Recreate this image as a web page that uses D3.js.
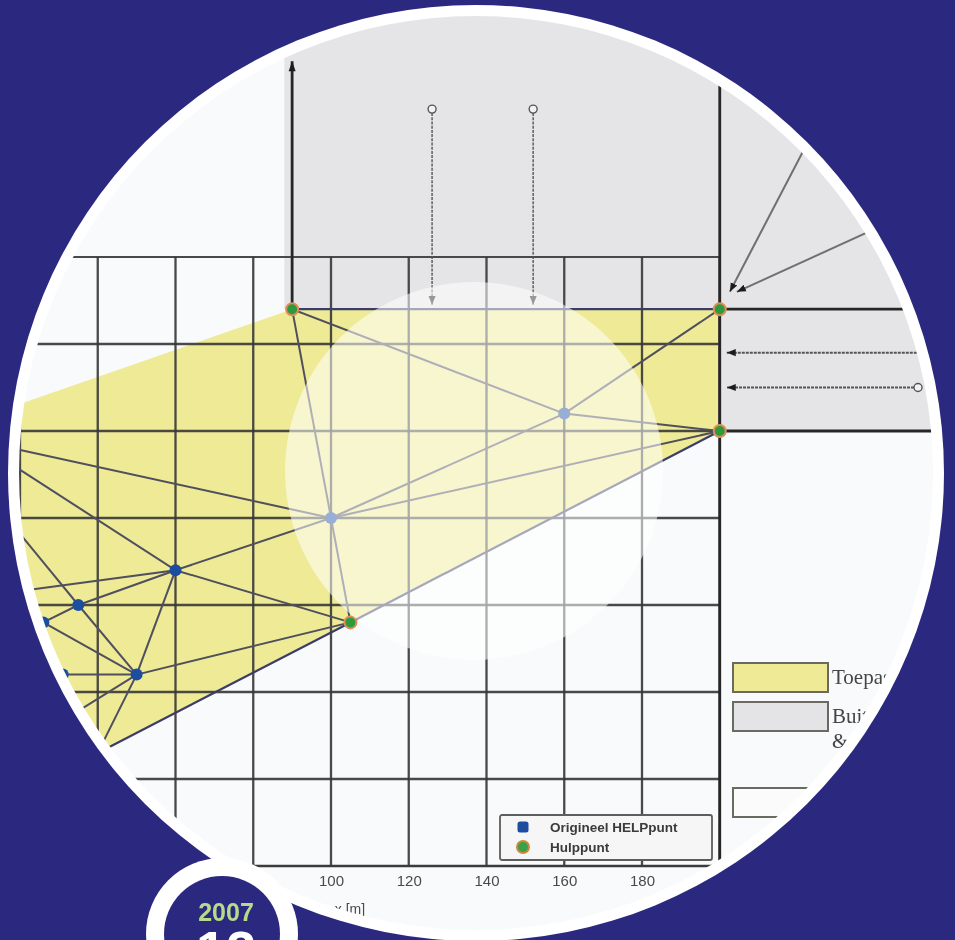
<!DOCTYPE html>
<html>
<head>
<meta charset="utf-8">
<script src="https://cdn.jsdelivr.net/npm/d3@7"></script>
<style>
  html, body { margin: 0; padding: 0; background: #2b2880; }
  svg { display: block; }
</style>
</head>
<body>
<svg id="chart" width="955" height="940"></svg>
<script>
// ---- data -------------------------------------------------------------
// x axis tick labels and grid positions (metres)
const xTickLabels = [100, 120, 140, 160, 180];
const xGrid = [0, 20, 40, 60, 80, 100, 120, 140, 160, 180, 200];
const yGrid = [0, 20, 40, 60, 80, 100, 120, 140];

// mesh nodes
const nodeIds  = ["A", "B", "C", "D", "E", "F", "G", "H", "I", "J", "K", "L", "N", "O", "P", "Q", "R", "S"];
const nodeX    = [ 90, 200, 200, 105, 160, 100,  60,  35,  50,  26,  31,   8,  13,  10,  40,  23,   0,   0];
const nodeY    = [128, 128, 100,  56, 104,  80,  68,  60,  44,  56,  44,  98,  84,  62,  26,  29,   7, 100];
const nodeKind = ["hulp", "hulp", "hulp", "hulp", "orig", "orig", "orig", "orig", "orig", "orig", "orig",
                  "orig", "orig", "orig", "rand", "orig", "rand", "rand"];

// outline of the application area and the triangulation inside it
const outline = ["A", "B", "C", "D", "P", "R", "S"];
const meshEdges = [
  ["A", "E"], ["A", "F"], ["E", "B"], ["F", "E"], ["E", "C"], ["F", "C"], ["F", "D"],
  ["F", "G"], ["F", "L"], ["G", "L"], ["G", "D"], ["G", "H"], ["G", "I"], ["G", "O"],
  ["H", "N"], ["H", "I"], ["H", "J"], ["J", "I"], ["K", "I"], ["I", "D"], ["I", "P"], ["I", "Q"]
];

// outer area (grey) outline
const outerX = [88, 88, 200, 200, 270, 270];
const outerY = [200, 128, 128, 100, 100, 200];

// boundary conditions
const upArrow = { x: 90, y0: 128, y1: 185 };
const dropArrowX = [126, 152];
const dropTop = 174, dropEnd = 129;
const sideArrowY = [118, 110];
const sideStartX = [262, 251];
const sideEnd = 201.8;
const diagTipX = [202.6, 204.4], diagTipY = [132, 132];
const diagTailX = [233.5, 261.8], diagTailY = [185, 155.4];
const edgeLinesY = [128, 100];

// legends
const pointLegend = [["orig", "Origineel HELPpunt"], ["hulp", "Hulppunt"]];
const areaLegend = [
  { fill: "#eeea96", lines: ["Toepassingsgebied"] },
  { fill: "#e4e4e6", lines: ["Buitengebied", "& overgangszone"] },
  { fill: "#fbfbfb", lines: ["Overig"] }
];

// ---- drawing ----------------------------------------------------------
const W = 955, H = 940;
const cx = 476, cy = 473, R = 457, ringR = 468;

const x = d3.scaleLinear().domain([100, 180]).range([331, 642]);
const y = d3.scaleLinear().domain([0, 140]).range([866, 257]);

const nodes = new Map(nodeIds.map((id, i) => [id, { id, x: nodeX[i], y: nodeY[i], kind: nodeKind[i] }]));
const px = id => x(nodes.get(id).x);
const py = id => y(nodes.get(id).y);

const svg = d3.select("#chart");
svg.append("rect").attr("width", W).attr("height", H).attr("fill", "#2b2880");

const defs = svg.append("defs");
defs.append("clipPath").attr("id", "disc")
  .append("circle").attr("cx", cx).attr("cy", cy).attr("r", R);
defs.append("filter").attr("id", "soft")
  .append("feGaussianBlur").attr("stdDeviation", 0.55);
defs.append("marker").attr("id", "tip")
  .attr("viewBox", "0 0 10 10").attr("refX", 10).attr("refY", 5)
  .attr("markerUnits", "userSpaceOnUse").attr("markerWidth", 9).attr("markerHeight", 9)
  .attr("orient", "auto")
  .append("path").attr("d", "M0,1 L10,5 L0,9 Z").attr("fill", "#1e1e1e");
defs.append("marker").attr("id", "tipBig")
  .attr("viewBox", "0 0 10 10").attr("refX", 10).attr("refY", 5)
  .attr("markerUnits", "userSpaceOnUse").attr("markerWidth", 12).attr("markerHeight", 10)
  .attr("orient", "auto")
  .append("path").attr("d", "M0,1.5 L10,5 L0,8.5 Z").attr("fill", "#1e1e1e");

// white rim of the disc
svg.append("circle").attr("cx", cx).attr("cy", cy).attr("r", ringR).attr("fill", "#ffffff");

const disc = svg.append("g").attr("clip-path", "url(#disc)");
const plot = disc.append("g").attr("filter", "url(#soft)");

plot.append("rect").attr("x", 0).attr("y", 0).attr("width", W).attr("height", H).attr("fill", "#f9fafb");

const poly = d3.line().x(d => d[0]).y(d => d[1]);

// outer (grey) area
plot.append("path")
  .attr("d", poly(outerX.map((v, i) => [x(v), y(outerY[i])])) + "Z")
  .attr("fill", "#e5e5e7");

// application area
plot.append("path")
  .attr("d", poly(outline.map(id => [px(id), py(id)])) + "Z")
  .attr("fill", "#eeea96");

// grid
const grid = plot.append("g").attr("stroke", "#363636").attr("stroke-width", 2.3).attr("stroke-opacity", 0.9);
grid.selectAll("line.v").data(xGrid).join("line")
  .attr("x1", d => x(d)).attr("x2", d => x(d))
  .attr("y1", y(0)).attr("y2", y(140));
grid.selectAll("line.h").data(yGrid.filter(d => d > 0)).join("line")
  .attr("x1", x(-20)).attr("x2", x(200))
  .attr("y1", d => y(d)).attr("y2", d => y(d))
  .attr("stroke-width", d => d === 140 ? 1.8 : 2.3);

// axis
const axis = plot.append("g").attr("transform", `translate(0,${y(0)})`)
  .call(d3.axisBottom(x).tickValues(xTickLabels).tickSize(0).tickPadding(9).tickFormat(d3.format("d")));
axis.select(".domain").attr("d", `M${x(-20)},0H${x(200)}`)
  .attr("stroke", "#3a3a3a").attr("stroke-width", 2.4);
axis.selectAll("text").attr("font-family", "Liberation Sans, Arial, sans-serif")
  .attr("font-size", 15).attr("fill", "#4a4a4a");
plot.append("text").attr("x", 350).attr("y", 914).attr("text-anchor", "middle")
  .attr("font-family", "Liberation Sans, Arial, sans-serif").attr("font-size", 14).attr("fill", "#4a4a4a")
  .text("x [m]");

// triangulation
plot.append("g").selectAll("line").data(meshEdges).join("line")
  .attr("x1", d => px(d[0])).attr("y1", d => py(d[0]))
  .attr("x2", d => px(d[1])).attr("y2", d => py(d[1]))
  .attr("stroke", "#4f4f5e").attr("stroke-width", 2);

// outline of the application area
plot.append("path")
  .attr("d", poly(outline.map(id => [px(id), py(id)])))
  .attr("fill", "none").attr("stroke", "#3b3e68").attr("stroke-width", 2.2);

// heavy boundary lines
const heavy = plot.append("g").attr("stroke", "#262626").attr("stroke-width", 2.8).attr("fill", "none");
heavy.append("line").attr("x1", x(200)).attr("x2", x(200)).attr("y1", y(180)).attr("y2", y(0));
heavy.selectAll("line.e").data(edgeLinesY).join("line")
  .attr("x1", x(200)).attr("x2", x(262)).attr("y1", d => y(d)).attr("y2", d => y(d));
heavy.append("line")
  .attr("x1", x(upArrow.x)).attr("x2", x(upArrow.x))
  .attr("y1", y(upArrow.y0)).attr("y2", y(upArrow.y1))
  .attr("marker-end", "url(#tipBig)");

// loads: vertical drop arrows
const arrows = plot.append("g").attr("stroke", "#555").attr("fill", "none");
arrows.selectAll("line.d").data(dropArrowX).join("line")
  .attr("x1", d => x(d)).attr("x2", d => x(d))
  .attr("y1", y(dropTop) + 4).attr("y2", y(dropEnd))
  .attr("stroke-width", 1.4).attr("stroke-dasharray", "3,1.2")
  .attr("marker-end", "url(#tip)");
arrows.selectAll("circle.d").data(dropArrowX).join("circle")
  .attr("cx", d => x(d)).attr("cy", y(dropTop)).attr("r", 4)
  .attr("fill", "#f2f2f2").attr("stroke-width", 1.4);

// horizontal arrows from the right
arrows.selectAll("line.s").data(sideArrowY).join("line")
  .attr("x1", (d, i) => x(sideStartX[i]) - 4).attr("x2", x(sideEnd))
  .attr("y1", d => y(d)).attr("y2", d => y(d))
  .attr("stroke-width", 2).attr("stroke-dasharray", "3,1")
  .attr("marker-end", "url(#tip)");
arrows.selectAll("circle.s").data(sideArrowY).join("circle")
  .attr("cx", (d, i) => x(sideStartX[i])).attr("cy", d => y(d)).attr("r", 4)
  .attr("fill", "#f2f2f2").attr("stroke-width", 1.4);

// oblique arrows
arrows.selectAll("line.o").data(diagTipX).join("line")
  .attr("x1", (d, i) => x(diagTailX[i])).attr("y1", (d, i) => y(diagTailY[i]))
  .attr("x2", d => x(d)).attr("y2", (d, i) => y(diagTipY[i]))
  .attr("stroke", "#707070").attr("stroke-width", 2)
  .attr("marker-end", "url(#tip)");

// mesh points
const pts = [...nodes.values()].filter(n => n.kind !== "rand");
plot.append("g").selectAll("circle").data(pts.filter(n => n.kind === "orig")).join("circle")
  .attr("cx", d => x(d.x)).attr("cy", d => y(d.y)).attr("r", 6)
  .attr("fill", "#1d4e9f");
plot.append("g").selectAll("circle").data(pts.filter(n => n.kind === "hulp")).join("circle")
  .attr("cx", d => x(d.x)).attr("cy", d => y(d.y)).attr("r", 6)
  .attr("fill", "#2f9a3c").attr("stroke", "#e08d58").attr("stroke-width", 2);

// point legend
const lg = plot.append("g").attr("transform", "translate(500,815)");
lg.append("rect").attr("width", 212).attr("height", 45)
  .attr("fill", "#f6f6f6").attr("stroke", "#5d5d5d").attr("stroke-width", 1.8).attr("rx", 2);
pointLegend.forEach(([kind, label], i) => {
  const row = lg.append("g").attr("transform", `translate(23,${12 + i * 20})`);
  if (kind === "orig") {
    row.append("rect").attr("x", -5.5).attr("y", -5.5).attr("width", 11).attr("height", 11)
      .attr("rx", 2.5).attr("fill", "#1d4e9f");
  } else {
    row.append("circle").attr("r", 6).attr("fill", "#3aa048")
      .attr("stroke", "#c98a3c").attr("stroke-width", 2);
  }
  row.append("text").attr("x", 27).attr("y", 5)
    .attr("font-family", "Liberation Sans, Arial, sans-serif").attr("font-weight", "bold")
    .attr("font-size", 13.5).attr("fill", "#3a3a3a").text(label);
});

// area legend
const al = plot.append("g").attr("transform", "translate(733,663)");
areaLegend.forEach((d, i) => {
  const offs = [0, 39, 125][i];
  const row = al.append("g").attr("transform", `translate(0,${offs})`);
  row.append("rect").attr("width", 95).attr("height", 29)
    .attr("fill", d.fill).attr("stroke", "#6a6a62").attr("stroke-width", 2);
  d.lines.forEach((t, j) => {
    row.append("text").attr("x", 99).attr("y", 21 + j * 25)
      .attr("font-family", "Liberation Serif, Times New Roman, serif")
      .attr("font-size", 21).attr("fill", "#444").text(t);
  });
});

// soft highlight disc
disc.append("circle").attr("cx", 474).attr("cy", 471).attr("r", 189)
  .attr("fill", "#ffffff").attr("fill-opacity", 0.55);

// year badge
const badge = svg.append("g").attr("transform", "translate(222,934)");
badge.append("circle").attr("r", 76).attr("fill", "#ffffff");
badge.append("circle").attr("r", 58).attr("fill", "#2b2880");
badge.append("text").attr("x", 4).attr("y", -13).attr("text-anchor", "middle")
  .attr("font-family", "Liberation Sans, Arial, sans-serif").attr("font-weight", "bold")
  .attr("font-size", 25).attr("fill", "#b6da8a").text("2007");
badge.append("text").attr("x", 4).attr("y", 35).attr("text-anchor", "middle")
  .attr("font-family", "Liberation Sans, Arial, sans-serif").attr("font-weight", "bold")
  .attr("font-size", 54).attr("fill", "#ffffff").text("12");
</script>
</body>
</html>
